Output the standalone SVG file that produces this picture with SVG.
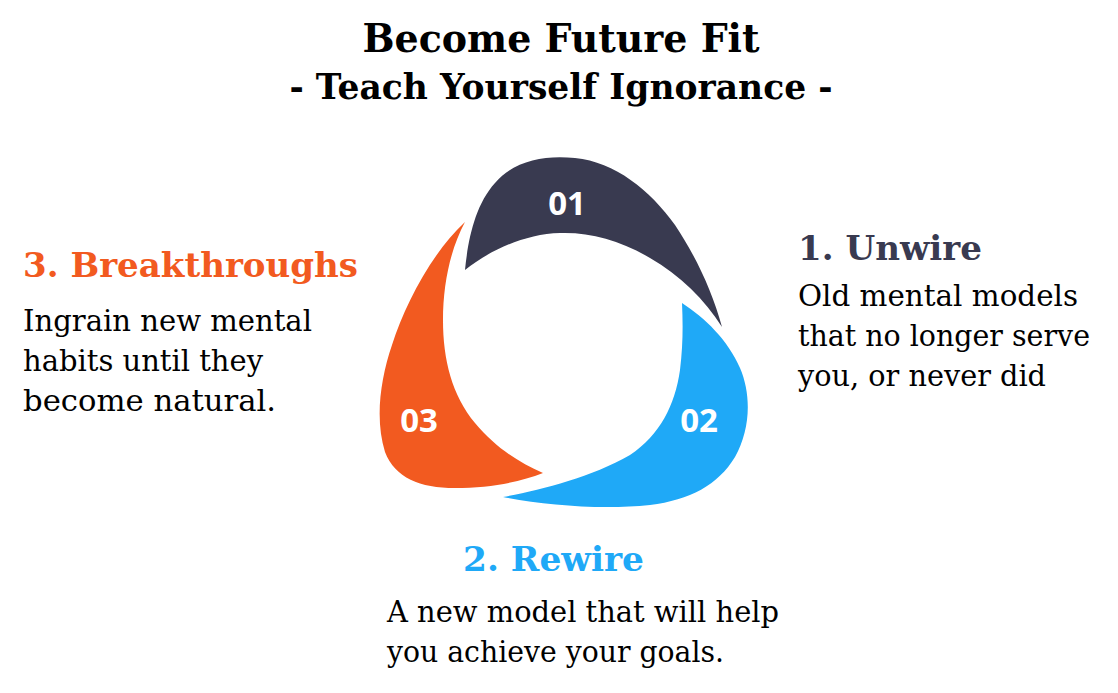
<svg xmlns="http://www.w3.org/2000/svg" width="1118" height="693" viewBox="0 0 1118 693">
<style>
.t{font-family:"DejaVu Serif","Liberation Serif",serif;font-weight:bold;fill:#000}
.h{font-family:"DejaVu Serif","Liberation Serif",serif;font-weight:bold;font-size:33px}
.b{font-family:"DejaVu Serif","Liberation Serif",serif;font-size:29px;fill:#000}
.n{font-family:"Open Sans","Liberation Sans",sans-serif;font-weight:bold;font-size:33px;fill:#fff;text-anchor:middle}
</style>
<rect width="1118" height="693" fill="#fff"/>
<g id="title">
<text class="t" x="561" y="52" font-size="40" text-anchor="middle" textLength="397" lengthAdjust="spacingAndGlyphs">Become Future Fit</text>
<text class="t" x="561" y="99" font-size="36" text-anchor="middle" textLength="543" lengthAdjust="spacingAndGlyphs">- Teach Yourself Ignorance -</text>
</g>
<g id="node1">
<path d="M465,270 C468,240 475,205 495,183 C515,160 545,155 575,158 C615,162 650,190 675,225 C695,255 712,290 722,327 C705,300 680,275 650,258 C620,240 590,232 560,233 C525,234 490,250 465,270 Z" fill="#393a50"/>
<text class="n" x="567" y="215">01</text>
</g>
<g id="node2">
<path d="M682,303 C705,318 728,340 740,368 C752,396 750,430 735,457 C718,485 690,500 650,505 C600,510 545,505 503,497 C540,490 590,478 630,455 C660,435 675,405 680,370 C683,345 683,325 682,303 Z" fill="#1fa9f7"/>
<text class="n" x="699" y="432">02</text>
</g>
<g id="node3">
<path d="M465,222 C450,250 443,285 443,320 C443,360 452,395 475,423 C495,447 518,462 543,473 C520,482 490,488 455,488 C420,488 395,478 385,452 C375,420 380,380 392,345 C405,305 430,255 465,222 Z" fill="#f25a20"/>
<text class="n" x="419" y="432">03</text>
</g>
<g id="text1">
<text class="h" x="798" y="260" fill="#393a50" textLength="184" lengthAdjust="spacingAndGlyphs">1. Unwire</text>
<text class="b" x="798" y="306" textLength="280" lengthAdjust="spacingAndGlyphs">Old mental models</text>
<text class="b" x="798" y="346" textLength="292" lengthAdjust="spacingAndGlyphs">that no longer serve</text>
<text class="b" x="798" y="386" textLength="248" lengthAdjust="spacingAndGlyphs">you, or never did</text>
</g>
<g id="text2">
<text class="h" x="463" y="571" fill="#1fa9f7" textLength="181" lengthAdjust="spacingAndGlyphs">2. Rewire</text>
<text class="b" x="387" y="622" textLength="392" lengthAdjust="spacingAndGlyphs">A new model that will help</text>
<text class="b" x="387" y="662" textLength="337" lengthAdjust="spacingAndGlyphs">you achieve your goals.</text>
</g>
<g id="text3">
<text class="h" x="23" y="277" fill="#f25a20" textLength="335" lengthAdjust="spacingAndGlyphs">3. Breakthroughs</text>
<text class="b" x="23" y="331" textLength="289" lengthAdjust="spacingAndGlyphs">Ingrain new mental</text>
<text class="b" x="23" y="371" textLength="240" lengthAdjust="spacingAndGlyphs">habits until they</text>
<text class="b" x="23" y="411" textLength="253" lengthAdjust="spacingAndGlyphs">become natural.</text>
</g>
<g id="connectors"/>
</svg>
